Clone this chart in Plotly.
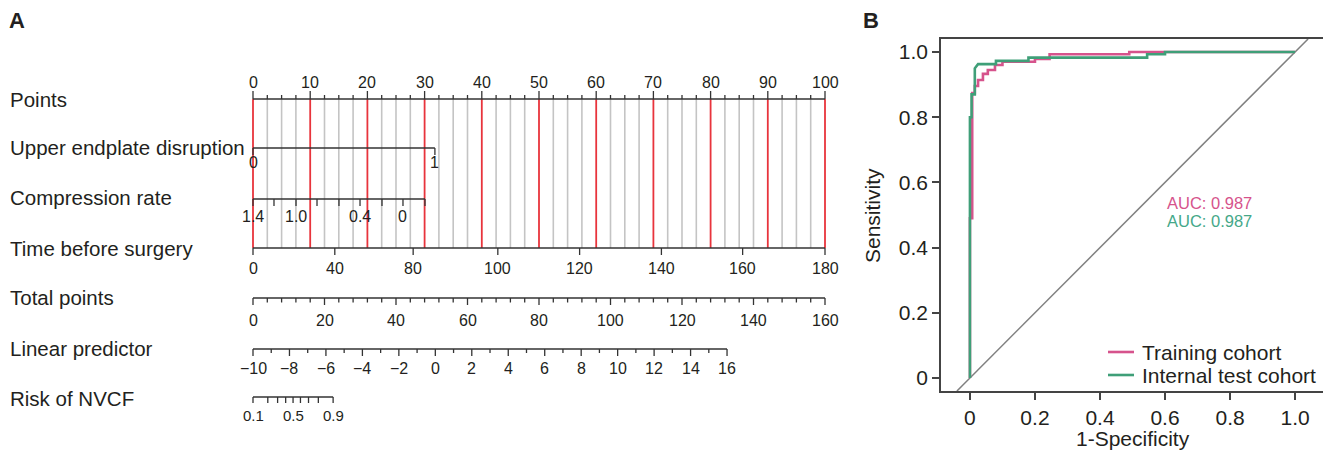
import numpy as np
import plotly.graph_objects as go

# ---------------- Nomogram data (panel A) ----------------
points_major = [0, 10, 20, 30, 40, 50, 60, 70, 80, 90, 100]
points_step_minor = 2.5

upper_levels = ["0", "1"]
upper_points = [0, 31.8]

compression_values = [1.4, 1.2, 1.0, 0.8, 0.6, 0.4, 0.2, 0.0, -0.2]
compression_points = [0, 3.67, 7.52, 11.19, 15.03, 18.71, 22.55, 26.22, 30.07]
compression_labels = ["1.4", "", "1.0", "", "", "0.4", "", "0", ""]

time_values = [0, 40, 80, 100, 120, 140, 160, 180]
time_points = [0, 14.3, 28.0, 42.8, 57.1, 71.4, 85.6, 100]

total_major = [0, 20, 40, 60, 80, 100, 120, 140, 160]
total_minor_step = 4
total_max = 160

lp_major = [-10, -8, -6, -4, -2, 0, 2, 4, 6, 8, 10, 12, 14, 16]
lp_total_at_max = 132.6  # total points where LP = 16

risk_values = [0.1, 0.2, 0.3, 0.4, 0.5, 0.6, 0.7, 0.8, 0.9]
risk_labels = ["0.1", "", "", "", "0.5", "", "", "", "0.9"]

row_names = ["Points", "Upper endplate disruption", "Compression rate",
             "Time before surgery", "Total points", "Linear predictor", "Risk of NVCF"]

# ---------------- ROC data (panel B) ----------------
train_fpr = [0, 0, 0.007, 0.007, 0.015, 0.015, 0.025, 0.025, 0.04, 0.04, 0.055, 0.055,
             0.077, 0.077, 0.10, 0.10, 0.20, 0.20, 0.245, 0.245, 0.49, 0.49, 1.0]
train_tpr = [0, 0.49, 0.49, 0.874, 0.874, 0.896, 0.896, 0.914, 0.914, 0.933, 0.933, 0.945,
             0.945, 0.96, 0.96, 0.97, 0.97, 0.979, 0.979, 0.993, 0.993, 1.0, 1.0]
test_fpr = [0, 0, 0.005, 0.005, 0.015, 0.015, 0.025, 0.08, 0.08, 0.18, 0.18, 0.545,
            0.545, 0.6, 0.6, 1.0]
test_tpr = [0, 0.80, 0.80, 0.87, 0.87, 0.95, 0.963, 0.963, 0.973, 0.973, 0.983, 0.983,
            0.993, 0.993, 1.0, 1.0]
auc_train = 0.987
auc_test = 0.987

# ---------------- styling / layout ----------------
W, H = 1331, 459       # page size
OFF = 8                # page body margin
FW, FH = W - OFF, H - OFF
PX0, PX100 = 253, 825  # page pixel positions of 0 and 100 points
ppp = (PX100 - PX0) / 100.0
FONT = "Liberation Sans, Arial, Helvetica, sans-serif"
TXT = "#231f20"
AXC = "#333333"
RED = "#e8343c"
GRAY = "#c4c4c4"
PINK = "#d6538c"
GREEN = "#3f9f78"


def px(xp):
    return (xp - OFF) / FW


def py(yp):
    return 1 - (yp - OFF) / FH


row_y = {"Points": 99, "Upper endplate disruption": 148, "Compression rate": 199,
         "Time before surgery": 248, "Total points": 298, "Linear predictor": 349,
         "Risk of NVCF": 397}
label_y = {"Points": 99, "Upper endplate disruption": 147, "Compression rate": 197,
           "Time before surgery": 248, "Total points": 297, "Linear predictor": 348,
           "Risk of NVCF": 398}


def total_to_pts(t):
    return np.asarray(t, dtype=float) * 100.0 / total_max


def lp_to_pts(lp):
    lp = np.asarray(lp, dtype=float)
    return total_to_pts((lp - lp_major[0]) * lp_total_at_max / (lp_major[-1] - lp_major[0]))


def risk_to_pts(p):
    p = np.asarray(p, dtype=float)
    logit = np.log(p / (1 - p))
    lp = lp_major[0] + (logit - np.log(risk_values[0] / (1 - risk_values[0])))
    return lp_to_pts(lp)


fig = go.Figure()
annotations = []


def segs(xs0, ys0, xs1, ys1, color, width):
    X, Y = [], []
    for a, b, c, d in zip(xs0, ys0, xs1, ys1):
        X += [a, c, None]
        Y += [b, d, None]
    fig.add_trace(go.Scatter(x=X, y=Y, mode="lines", line=dict(color=color, width=width),
                             hoverinfo="skip", showlegend=False, xaxis="x", yaxis="y"))


def tick_labels(xs, labels, y, size=16):
    for x, lab in zip(xs, labels):
        if lab == "":
            continue
        annotations.append(dict(x=float(x), y=y, xref="x", yref="y", text=lab, showarrow=False,
                                xanchor="center", yanchor="middle",
                                font=dict(family=FONT, size=size, color=TXT)))


# vertical gridlines
y_top, y_bot = row_y["Points"], row_y["Time before surgery"]
all_pts = np.arange(0, 100 + 1e-9, points_step_minor)
minor_pts = [p for p in all_pts if p not in points_major]
segs(minor_pts, [y_top] * len(minor_pts), minor_pts, [y_bot] * len(minor_pts), GRAY, 1.6)
segs(points_major, [y_top] * len(points_major), points_major, [y_bot] * len(points_major), RED, 1.8)

# Points axis
y = row_y["Points"]
segs([0], [y], [100], [y], AXC, 1.5)
segs(minor_pts, [y] * len(minor_pts), minor_pts, [y - 4] * len(minor_pts), AXC, 1.3)
segs(points_major, [y] * len(points_major), points_major, [y - 8] * len(points_major), AXC, 1.3)
tick_labels(points_major, [str(v) for v in points_major], 82)

# Upper endplate disruption
y = row_y["Upper endplate disruption"]
segs([upper_points[0]], [y], [upper_points[-1]], [y], AXC, 1.5)
segs(upper_points, [y] * 2, upper_points, [y + 7] * 2, AXC, 1.3)
tick_labels(upper_points, upper_levels, 162)

# Compression rate
y = row_y["Compression rate"]
segs([compression_points[0]], [y], [compression_points[-1]], [y], AXC, 1.5)
n = len(compression_points)
segs(compression_points, [y] * n, compression_points, [y + 7] * n, AXC, 1.3)
tick_labels(compression_points, compression_labels, 216)

# Time before surgery
y = row_y["Time before surgery"]
segs([time_points[0]], [y], [time_points[-1]], [y], AXC, 1.5)
n = len(time_points)
segs(time_points, [y] * n, time_points, [y + 7] * n, AXC, 1.3)
tick_labels(time_points, [str(v) for v in time_values], 268)

# Total points
y = row_y["Total points"]
tot_all = np.arange(0, total_max + 1e-9, total_minor_step)
tot_minor = [t for t in tot_all if t not in total_major]
segs([0], [y], [100], [y], AXC, 1.5)
xm = total_to_pts(tot_minor)
segs(xm, [y] * len(xm), xm, [y + 4.5] * len(xm), AXC, 1.3)
xM = total_to_pts(total_major)
segs(xM, [y] * len(xM), xM, [y + 7] * len(xM), AXC, 1.3)
tick_labels(xM, [str(v) for v in total_major], 320)

# Linear predictor
y = row_y["Linear predictor"]
lp_minor = [v + 1 for v in lp_major[:-1]]
xL = lp_to_pts(lp_major)
xl = lp_to_pts(lp_minor)
segs([xL[0]], [y], [xL[-1]], [y], AXC, 1.5)
segs(xl, [y] * len(xl), xl, [y + 4] * len(xl), AXC, 1.3)
segs(xL, [y] * len(xL), xL, [y + 7] * len(xL), AXC, 1.3)
tick_labels(xL, [("\u2212" + str(-v)) if v < 0 else str(v) for v in lp_major], 368)

# Risk of NVCF
y = row_y["Risk of NVCF"]
xR = risk_to_pts(risk_values)
segs([xR[0]], [y], [xR[-1]], [y], AXC, 1.5)
segs(xR, [y] * len(xR), xR, [y + 6] * len(xR), AXC, 1.3)
tick_labels(xR, risk_labels, 415, size=15)

# row labels
for name in row_names:
    annotations.append(dict(x=px(8), y=label_y[name], xref="paper", yref="y", text=name,
                            showarrow=False, xanchor="left", yanchor="middle",
                            font=dict(family=FONT, size=20.5, color=TXT)))

# panel letters
annotations.append(dict(x=px(17), y=py(20), xref="paper", yref="paper", text="<b>A</b>",
                        showarrow=False, xanchor="center", yanchor="middle",
                        font=dict(family=FONT, size=22, color=TXT)))
annotations.append(dict(x=px(871), y=py(20), xref="paper", yref="paper", text="<b>B</b>",
                        showarrow=False, xanchor="center", yanchor="middle",
                        font=dict(family=FONT, size=22, color=TXT)))

# ---------------- ROC panel ----------------
fig.add_trace(go.Scatter(x=train_fpr, y=train_tpr, mode="lines", name="Training cohort",
                         line=dict(color=PINK, width=2.6), xaxis="x2", yaxis="y2",
                         showlegend=False, hoverinfo="skip"))
fig.add_trace(go.Scatter(x=test_fpr, y=test_tpr, mode="lines", name="Internal test cohort",
                         line=dict(color=GREEN, width=2.6), xaxis="x2", yaxis="y2",
                         showlegend=False, hoverinfo="skip"))

X2R = [-0.089, 1.089]
Y2R = [-0.04, 1.04]
shapes = [dict(type="line", xref="x2", yref="y2", x0=Y2R[0], y0=Y2R[0], x1=Y2R[1], y1=Y2R[1],
               line=dict(color="#808080", width=1.5), layer="below")]

annotations.append(dict(x=px(1165), y=py(203), xref="paper", yref="paper",
                        text=f"AUC: {auc_train:.3f}", showarrow=False, xanchor="left",
                        yanchor="middle", font=dict(family=FONT, size=16.5, color=PINK)))
annotations.append(dict(x=px(1165), y=py(221), xref="paper", yref="paper",
                        text=f"AUC: {auc_test:.3f}", showarrow=False, xanchor="left",
                        yanchor="middle", font=dict(family=FONT, size=16.5, color="#45a889")))

# legend drawn manually
for (name, col, ly) in [("Training cohort", PINK, 352), ("Internal test cohort", GREEN, 375)]:
    shapes.append(dict(type="line", xref="paper", yref="paper", x0=px(1108), x1=px(1134),
                       y0=py(ly), y1=py(ly), line=dict(color=col, width=2.6)))
    annotations.append(dict(x=px(1140), y=py(ly), xref="paper", yref="paper", text=name,
                            showarrow=False, xanchor="left", yanchor="middle",
                            font=dict(family=FONT, size=21, color=TXT)))

# axis titles
annotations.append(dict(x=px(872), y=py(215), xref="paper", yref="paper", text="Sensitivity",
                        showarrow=False, textangle=-90, xanchor="center", yanchor="middle",
                        font=dict(family=FONT, size=21, color=TXT)))
annotations.append(dict(x=px(1133), y=py(438), xref="paper", yref="paper",
                        text="1-Specificity", showarrow=False, xanchor="center",
                        yanchor="middle", font=dict(family=FONT, size=21, color=TXT)))

roc_ticks = [0, 0.2, 0.4, 0.6, 0.8, 1.0]
roc_ticktext = ["0", "0.2", "0.4", "0.6", "0.8", "1.0"]

fig.update_layout(
    width=FW, height=FH,
    margin=dict(l=0, r=0, t=0, b=0),
    paper_bgcolor="white", plot_bgcolor="rgba(0,0,0,0)",
    showlegend=False,
    xaxis=dict(domain=[0, 1], range=[-(PX0 - OFF) / ppp, (W - PX0) / ppp], visible=False,
               fixedrange=True),
    yaxis=dict(domain=[0, 1], range=[H, OFF], visible=False, fixedrange=True),
    xaxis2=dict(domain=[px(941), px(1324)], range=X2R, anchor="y2", showgrid=False,
                zeroline=False, showline=True, mirror=True, linecolor="#444444", linewidth=1.6,
                ticks="outside", ticklen=7, tickwidth=1.5, tickcolor="#444444",
                tickvals=roc_ticks, ticktext=roc_ticktext,
                tickfont=dict(family=FONT, size=21, color=TXT)),
    yaxis2=dict(domain=[py(391), py(39)], range=Y2R, anchor="x2", showgrid=False,
                zeroline=False, showline=True, mirror=True, linecolor="#444444", linewidth=1.6,
                ticks="outside", ticklen=7, tickwidth=1.5, tickcolor="#444444",
                tickvals=roc_ticks, ticktext=roc_ticktext,
                tickfont=dict(family=FONT, size=21, color=TXT)),
    annotations=annotations,
    shapes=shapes,
)

fig.write_html("out.html")
